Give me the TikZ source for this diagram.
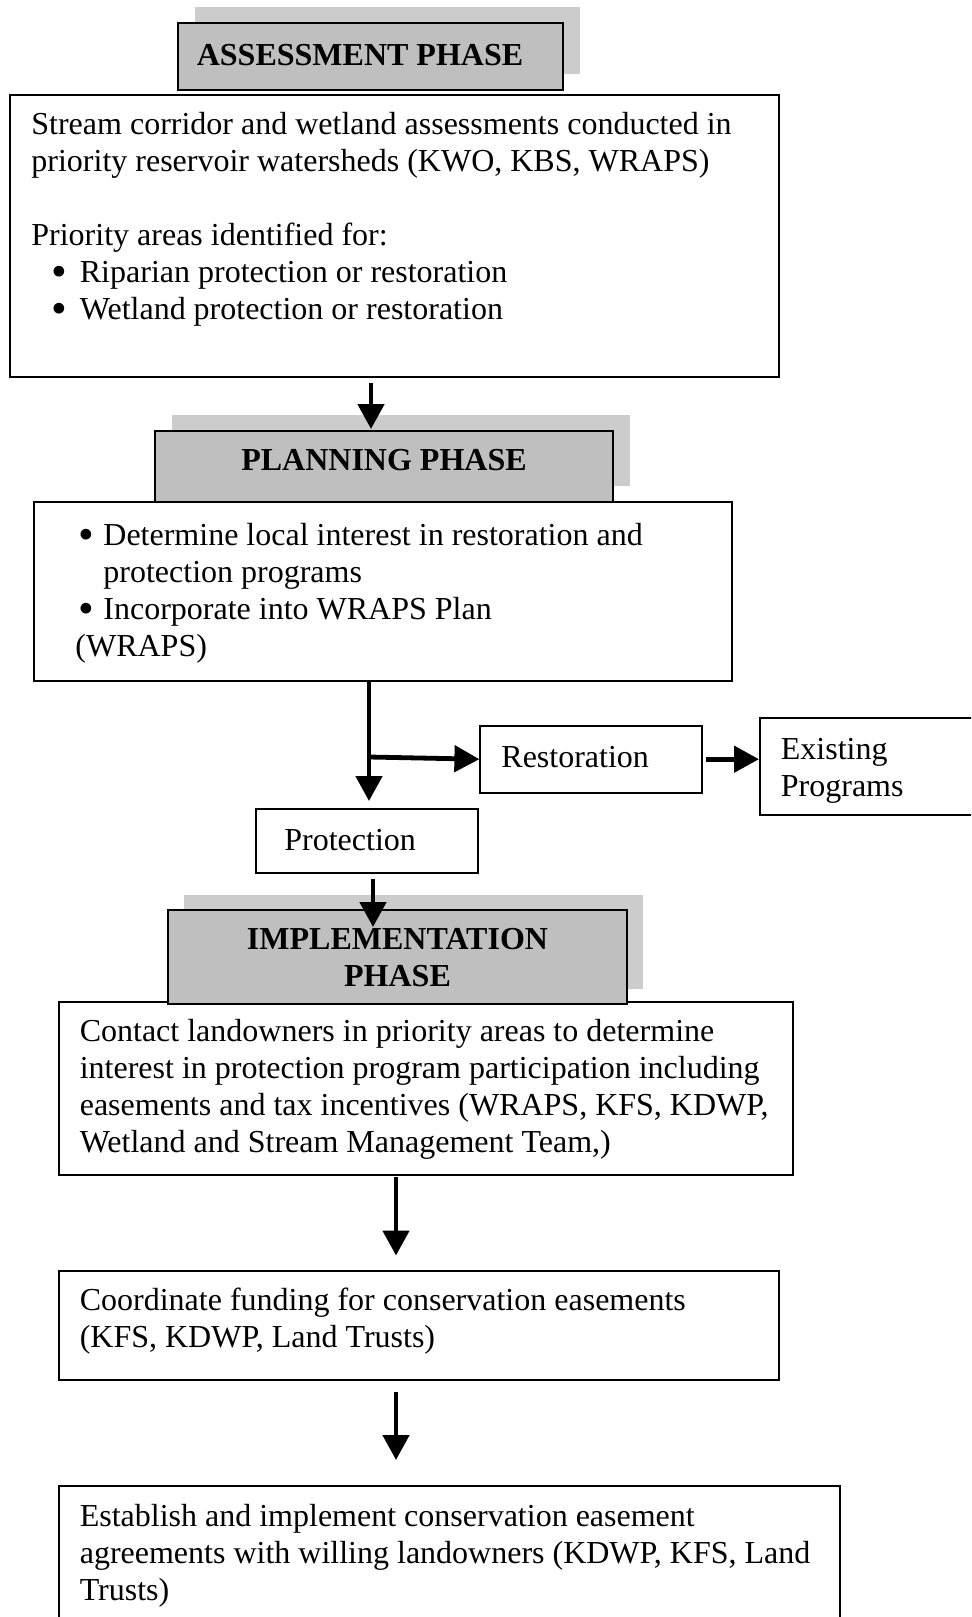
\documentclass[tikz,border=0pt]{standalone}
\usepackage{graphicx}
\usepackage{fontspec}
\setmainfont{Liberation Serif}
\usetikzlibrary{arrows.meta,fit}
\definecolor{shadowc}{gray}{0.80}
\definecolor{hdrc}{gray}{0.75}
\newcommand{\bigbul}{\smash{\raisebox{-1.9pt}{\scalebox{1.4}{\textbullet}}}}
\begin{document}
\begin{tikzpicture}[x=0.5pt,y=-0.5pt,
  boxst/.style={draw=black, line width=1pt, inner sep=0pt, fill=white},
  hdrst/.style={draw=black, line width=1pt, inner sep=0pt, fill=hdrc},
  shad/.style={fill=shadowc},
  txt/.style={anchor=base west, inner sep=0pt, align=left, font=\fontsize{16pt}{18.5pt}\selectfont},
  htxt/.style={anchor=base, inner sep=0pt, align=center, font=\fontsize{16pt}{18.5pt}\selectfont\bfseries},
  arr/.style={line width=2.4pt, -{Triangle[length=12.5pt,width=13pt]}},
]
\useasboundingbox (0,0) rectangle (971,1617);
\clip (0,0) rectangle (971,1617);

% header corner coordinates
\coordinate (hAnw) at (178,23);   \coordinate (hAse) at (563,90);
\coordinate (hPnw) at (154.6,431); \coordinate (hPse) at (613.3,502);
\coordinate (hInw) at (168,910);  \coordinate (hIse) at (627,1004);

% shadows
\fill[shad] ([shift={(17,-16)}]hAnw) rectangle ([shift={(17,-16)}]hAse);
\fill[shad] ([shift={(17,-16)}]hPnw) rectangle ([shift={(17,-16)}]hPse);
\fill[shad] ([shift={(16,-15)}]hInw) rectangle ([shift={(16,-15)}]hIse);

% boxes
\node[boxst, fit={(10.3,94.8) (779.3,377.3)}] (b1) {};
\node[boxst, fit={(34,502) (732,681.4)}] (b2) {};
\node[boxst, fit={(480.4,725.7) (702,792.7)}] (rest) {};
\node[boxst, fit={(760,718) (995,815)}] (exist) {};
\node[boxst, fit={(255.6,809) (477.5,873)}] (prot) {};
\node[boxst, fit={(58.8,1001.5) (792.7,1175)}] (b3) {};
\node[boxst, fit={(58.8,1270.5) (779.3,1379.5)}] (b4) {};
\node[boxst, fit={(58.8,1486) (840,1640)}] (b5) {};

% headers
\node[hdrst, fit=(hAnw)(hAse)] (hA) {};
\node[hdrst, fit=(hPnw)(hPse)] (hP) {};
\node[hdrst, fit=(hInw)(hIse)] (hI) {};

% texts (anchored at the baseline of the last line)
\node[htxt] (hAt) at (360,65) {ASSESSMENT PHASE};
\node[htxt] (hPt) at (384,470) {PLANNING PHASE};
\node[htxt] (hIt) at (397.5,986) {IMPLEMENTATION\\PHASE};

\node[txt] (t1) at (31,319.5) {Stream corridor and wetland assessments conducted in\\
priority reservoir watersheds (KWO, KBS, WRAPS)\\[18.5pt]
Priority areas identified for:\\
\hspace*{10pt}\makebox[14.25pt][l]{\bigbul}Riparian protection or restoration\\
\hspace*{10pt}\makebox[14.25pt][l]{\bigbul}Wetland protection or restoration};

\node[txt] (t2) at (75,656.5) {\hspace*{1.5pt}\makebox[12.5pt][l]{\bigbul}Determine local interest in restoration and\\
\hspace*{14pt}protection programs\\
\hspace*{1.5pt}\makebox[12.5pt][l]{\bigbul}Incorporate into WRAPS Plan\\
(WRAPS)};

\node[txt] (trest) at (501,767) {Restoration};
\node[txt] (texist) at (780.5,796) {Existing\\Programs};
\node[txt] (tprot) at (284,850) {Protection};

\node[txt] (t3) at (79.4,1152.5) {Contact landowners in priority areas to determine\\
interest in protection program participation including\\
easements and tax incentives (WRAPS, KFS, KDWP,\\
Wetland and Stream Management Team,)};

\node[txt] (t4) at (79.4,1347) {Coordinate funding for conservation easements\\
(KFS, KDWP, Land Trusts)};

\node[txt] (t5) at (79.4,1600.7) {Establish and implement conservation easement\\
agreements with willing landowners (KDWP, KFS, Land\\
Trusts)};

% connectors
\coordinate (ax1) at (371,0);
\coordinate (tx) at (369,0);
\coordinate (br) at (369,757);
\coordinate (ax2) at (373,0);
\coordinate (ax3) at (396,0);

\draw[arr, shorten <=2.5pt, shorten >=0.5pt] (b1.south -| ax1) -- (hP.north -| ax1);
\draw[arr, shorten >=3.5pt] (b2.south -| tx) -- (prot.north -| tx);
\draw[arr] (br) -- (rest.west);
\draw[arr, shorten <=1.5pt] (rest.east) -- (exist.west |- rest.east);
\draw[arr, shorten <=2.5pt, shorten >=-9pt] (prot.south -| ax2) -- (hI.north -| ax2);
\draw[arr, shorten <=0.5pt, shorten >=7pt] (b3.south -| ax3) -- (b4.north -| ax3);
\draw[arr, shorten <=5.75pt, shorten >=12.5pt] (b4.south -| ax3) -- (b5.north -| ax3);
\end{tikzpicture}
\end{document}
